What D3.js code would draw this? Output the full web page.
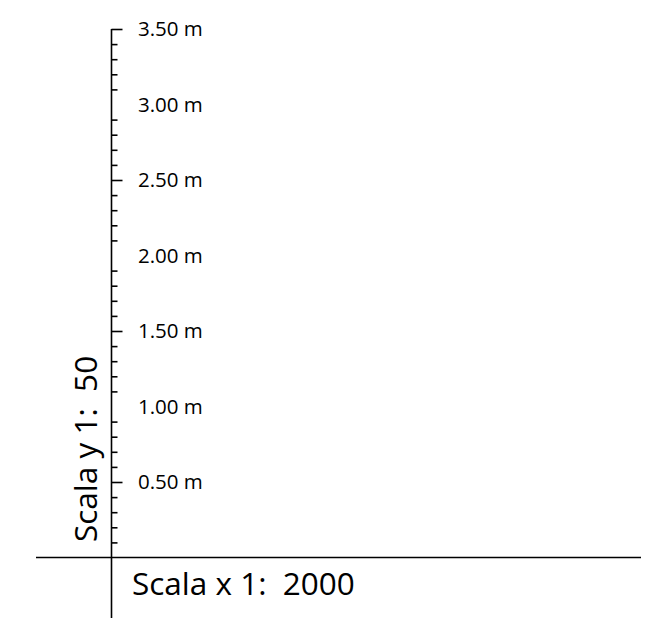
<!DOCTYPE html>
<html>
<head>
<meta charset="utf-8">
<script src="https://cdn.jsdelivr.net/npm/d3@7"></script>
<style>
  html, body { margin: 0; padding: 0; background: #fff; }
  svg { display: block; }
  text { font-family: "Open Sans", sans-serif; fill: #000; }
</style>
</head>
<body>
<script>
// ---- data ----
const yDomain = [0, 3.5];
const labelValues = [0.5, 1.0, 1.5, 2.0, 2.5, 3.0, 3.5];
const majorTickValues = [0.5, 1.5, 2.5, 3.5];
const minorTickValues = [0.1, 0.2, 0.3, 0.4, 0.6, 0.7, 0.8, 0.9,
  1.1, 1.2, 1.3, 1.4, 1.6, 1.7, 1.8, 1.9,
  2.1, 2.2, 2.3, 2.4, 2.6, 2.7, 2.8, 2.9,
  3.1, 3.2, 3.3, 3.4];
const xScaleLabel = "Scala x 1:  2000";
const yScaleLabel = "Scala y 1:  50";
const unit = " m";

// ---- drawing ----
const W = 645, H = 618;
const svg = d3.select("body").append("svg").attr("width", W).attr("height", H);

const axisX = 111.5;
const y = d3.scaleLinear().domain(yDomain).range([557.5, 29]);

// minor ticks
const minorAxis = d3.axisRight(y).tickValues(minorTickValues).tickSize(6).tickSizeOuter(0).tickFormat("");
const gMinor = svg.append("g").attr("transform", `translate(${axisX},0)`).call(minorAxis);
gMinor.select(".domain").remove();

// major ticks
const majorAxis = d3.axisRight(y).tickValues(majorTickValues).tickSize(11).tickSizeOuter(0).tickFormat("");
const gMajor = svg.append("g").attr("transform", `translate(${axisX},0)`).call(majorAxis);
gMajor.select(".domain").remove();

svg.selectAll(".tick line").attr("stroke", "#000").attr("stroke-width", 1.6);

// tick labels
svg.append("g").selectAll("text").data(labelValues).join("text")
  .attr("x", 138)
  .attr("y", d => y(d) + 7)
  .attr("font-size", 20.5)
  .text(d => d3.format(".2f")(d) + unit);

// vertical axis line
svg.append("line")
  .attr("x1", axisX).attr("x2", axisX)
  .attr("y1", y(yDomain[1])).attr("y2", H)
  .attr("stroke", "#000").attr("stroke-width", 1.6);

// horizontal line
svg.append("line")
  .attr("x1", 36).attr("x2", 641)
  .attr("y1", y(0)).attr("y2", y(0))
  .attr("stroke", "#000").attr("stroke-width", 1.6);

// x scale label
svg.append("text")
  .attr("x", 132).attr("y", 595)
  .attr("font-size", 31.5)
  .style("white-space", "pre")
  .text(xScaleLabel);

// y scale label (rotated)
svg.append("text")
  .attr("transform", "translate(97,542) rotate(-90)")
  .attr("font-size", 31.5)
  .style("white-space", "pre")
  .text(yScaleLabel);
</script>
</body>
</html>
